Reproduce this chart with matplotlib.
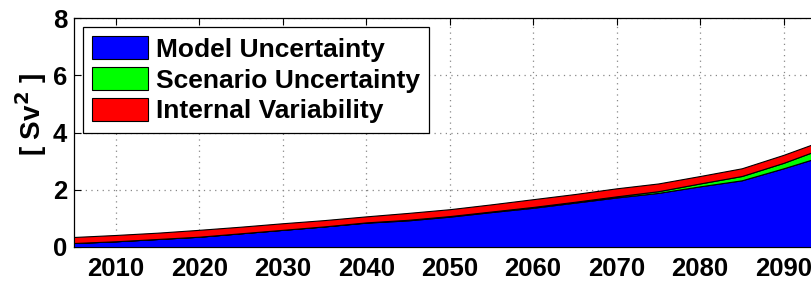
import numpy as np
import matplotlib
matplotlib.use("Agg")
import matplotlib.pyplot as plt

# values (Sv^2), 5-year steps
years = [2005, 2010, 2015, 2020, 2025, 2030, 2035, 2040, 2045, 2050,
         2055, 2060, 2065, 2070, 2075, 2080, 2085, 2090, 2095, 2100]
model_unc = [0.14, 0.20, 0.28, 0.36, 0.48, 0.60, 0.72, 0.85, 0.93, 1.06,
             1.22, 1.37, 1.55, 1.73, 1.89, 2.12, 2.33, 2.75, 3.20, 3.60]
scenario_unc = [0.00, 0.00, 0.00, 0.00, 0.00, 0.00, 0.00, 0.01, 0.02, 0.02,
                0.02, 0.03, 0.03, 0.04, 0.06, 0.10, 0.15, 0.19, 0.28, 0.35]
internal_var = [0.21, 0.22, 0.22, 0.24, 0.23, 0.23, 0.22, 0.21, 0.24, 0.24,
                0.25, 0.27, 0.27, 0.28, 0.27, 0.26, 0.27, 0.28, 0.27, 0.28]
labels = ["Model Uncertainty", "Scenario Uncertainty", "Internal Variability"]
colors = ["#0000ff", "#00ff00", "#ff0000"]

plt.rcParams['font.family'] = ['Liberation Sans', 'DejaVu Sans']
plt.rcParams['font.weight'] = 'bold'
plt.rcParams['mathtext.default'] = 'bf'

fig = plt.figure(figsize=(8.12, 2.81), dpi=100)
# axes run past the right edge, the reference is a crop
ax = fig.add_axes([74/812, 34/281, 793/812, 229/281])

ax.stackplot(years, model_unc, scenario_unc, internal_var,
             colors=colors, labels=labels, edgecolor='black', linewidth=0.8,
             zorder=3)

ax.set_xlim(2005, 2100)
ax.set_ylim(0, 8)
ax.set_xticks(range(2010, 2100, 10))
ax.set_yticks([0, 2, 4, 6, 8])
ax.set_axisbelow(True)
ax.grid(True, linestyle=(0, (1, 3.5)), color='#888888', linewidth=0.9)
ax.tick_params(direction='in', length=5, top=True, right=True,
               labelsize=18.5, width=0.8)
ax.tick_params(axis='x', pad=7.5)
ax.tick_params(axis='y', pad=5)
for lab in ax.get_xticklabels() + ax.get_yticklabels():
    lab.set_fontweight('bold')
for s in ax.spines.values():
    s.set_linewidth(0.9)

# y label placed by hand, sits a bit above the axes centre like the original
fig.text(31/812, 1 - 115/281, "[ Sv$^2$ ]", rotation=90, fontsize=20,
         fontweight='bold', ha='center', va='center')

leg = ax.legend(loc='upper left', fontsize=19, frameon=True, fancybox=False,
                edgecolor='black', framealpha=1, handlelength=2.1,
                handleheight=0.95, handletextpad=0.3, labelspacing=0.2,
                borderpad=0.35, borderaxespad=0.35)
leg.get_frame().set_linewidth(0.9)
for t in leg.get_texts():
    t.set_fontweight('bold')

fig.savefig("out.png", dpi=100)
